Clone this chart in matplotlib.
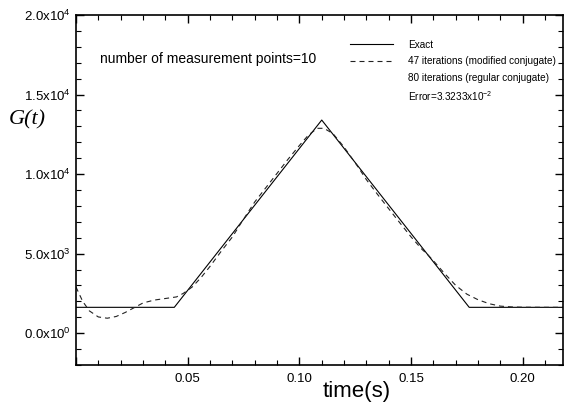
import numpy as np
import matplotlib
matplotlib.use("Agg")
import matplotlib.pyplot as plt
from matplotlib.lines import Line2D
from matplotlib.ticker import MultipleLocator, FuncFormatter

plt.rcParams['font.family'] = ['Liberation Sans', 'DejaVu Sans']
plt.rcParams['mathtext.fontset'] = 'custom'
plt.rcParams['mathtext.rm'] = 'Liberation Sans'
plt.rcParams['mathtext.default'] = 'regular'

# exact G(t): flat - triangle - flat
t_exact = [0.0, 0.044, 0.110, 0.176, 0.218]
g_exact = [1625, 1625, 13400, 1625, 1625]

# estimate (47 iterations modified conjugate / 80 iterations regular conjugate)
t_est = [0.000, 0.003, 0.006, 0.010, 0.014, 0.018, 0.022, 0.026, 0.030, 0.035,
         0.040, 0.045, 0.048, 0.052, 0.056, 0.060, 0.065, 0.070, 0.074, 0.080,
         0.085, 0.090, 0.095, 0.100, 0.104, 0.108, 0.111, 0.115, 0.120, 0.126,
         0.130, 0.135, 0.140, 0.145, 0.150, 0.155, 0.157, 0.160, 0.165, 0.170,
         0.175, 0.180, 0.185, 0.190, 0.195, 0.200, 0.210, 0.218]
g_est = [2900, 2000, 1400, 1020, 940, 1050, 1300, 1600, 1900, 2080,
         2180, 2280, 2500, 2900, 3500, 4200, 5150, 6050, 6950, 8250,
         9150, 10050, 10950, 11800, 12450, 12880, 12880, 12550, 11700, 10500,
         9650, 8720, 7820, 6930, 6050, 5250, 5000, 4550, 3750, 3000,
         2450, 2100, 1850, 1700, 1650, 1630, 1625, 1625]

legend_labels = ["Exact", "47 iterations (modified conjugate)",
                 "80 iterations (regular conjugate)", r"Error=3.3233x10$^{-2}$"]


def sci_fmt(v, pos):
    if v == 0:
        return r"0.0x10$^{0}$"
    e = int(np.floor(np.log10(abs(v))))
    m = v / 10 ** e
    return "%.1fx10$^{%d}$" % (m, e)


fig = plt.figure(figsize=(5.65, 4.05), dpi=100)
ax = fig.add_axes([0.1345, 0.0988, 0.862, 0.864])

ax.plot(t_exact, g_exact, color='black', lw=0.8)
ax.plot(t_est, g_est, color='#222222', lw=0.8, dashes=(4.5, 3.6))

ax.set_xlim(0.0, 0.218)
ax.set_ylim(-2000, 20000)

ax.xaxis.set_major_locator(MultipleLocator(0.05))
ax.xaxis.set_minor_locator(MultipleLocator(0.01))
ax.yaxis.set_major_locator(MultipleLocator(5000))
ax.yaxis.set_minor_locator(MultipleLocator(1000))
ax.xaxis.set_major_formatter(FuncFormatter(lambda v, p: "" if v < 0.01 else "%.2f" % v))
ax.yaxis.set_major_formatter(FuncFormatter(sci_fmt))

ax.tick_params(which='both', direction='in', top=True, right=True, labelsize=9.5)
ax.tick_params(which='major', length=6, width=1)
ax.tick_params(which='minor', length=3.5, width=0.8)
ax.tick_params(axis='y', pad=4)
ax.tick_params(axis='x', pad=5.5)
for s in ax.spines.values():
    s.set_linewidth(1.2)

ax.set_xlabel("time(s)", fontsize=16, va='center')
ax.xaxis.set_label_coords(0.577, -0.075)
ax.set_ylabel("G(t)", fontsize=16, family='Liberation Serif', style='italic',
              rotation=0, va='center', ha='center')
ax.yaxis.set_label_coords(-0.1, 0.7)

ax.text(0.05, 0.875, "number of measurement points=10", transform=ax.transAxes,
        fontsize=10, va='center')

handles = [Line2D([], [], color='black', lw=0.8),
           Line2D([], [], color='#222222', lw=0.8, dashes=(4.5, 3.6)),
           Line2D([], [], lw=0),
           Line2D([], [], lw=0)]
ax.legend(handles, legend_labels, loc='upper left', bbox_to_anchor=(0.563, 0.93),
          frameon=False, fontsize=7.2, handlelength=4.3, handletextpad=1.45,
          labelspacing=0.66, borderpad=0, borderaxespad=0)

fig.savefig("out.png", dpi=100)
